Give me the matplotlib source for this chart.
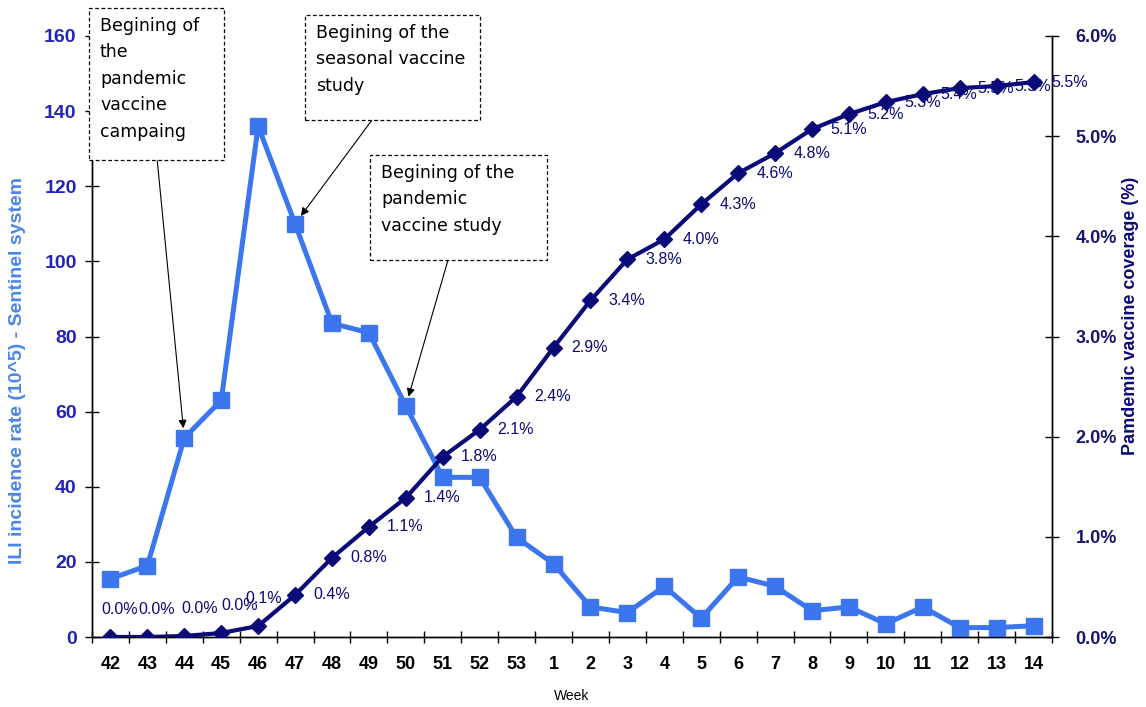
import matplotlib
matplotlib.use("Agg")
import matplotlib.pyplot as plt
from matplotlib.patches import Rectangle
from matplotlib.ticker import FuncFormatter, MultipleLocator

weeks = ["42", "43", "44", "45", "46", "47", "48", "49", "50", "51", "52", "53",
         "1", "2", "3", "4", "5", "6", "7", "8", "9", "10", "11", "12", "13", "14"]
ili_rate = [15.5, 19, 53, 63, 136, 110, 83.5, 81, 61.5, 42.5, 42.5, 26.5,
            19.5, 8, 6.5, 13.5, 5, 16, 13.5, 7, 8, 3.5, 8, 2.5, 2.5, 3]
coverage = [0.0, 0.0, 0.01, 0.04, 0.11, 0.42, 0.79, 1.10, 1.39, 1.80, 2.07, 2.40,
            2.89, 3.36, 3.77, 3.97, 4.32, 4.63, 4.83, 5.07, 5.22, 5.34, 5.42, 5.48, 5.50, 5.54]

notes = [
    "Begining of\nthe\npandemic\nvaccine\ncampaing",
    "Begining of the\nseasonal vaccine\nstudy",
    "Begining of the\npandemic\nvaccine study",
]
note_weeks = ["44", "47", "50"]

W, H = 1146, 707
BLUE = "#3b76ee"
NAVY = "#0a0a78"
LABEL_BLUE = "#4a86e8"
TICK_BLUE = "#2323b8"


def fx(x):
    return x / W


def fy(y):
    return 1 - y / H


plt.rcParams["font.family"] = ["Liberation Sans", "DejaVu Sans"]

fig = plt.figure(figsize=(W / 100, H / 100), dpi=100)
ax = fig.add_axes([fx(92), fy(637), fx(1052) - fx(92), fy(36) - fy(637)])
ax2 = ax.twinx()

x = list(range(len(weeks)))

ax.plot(x, ili_rate, color=BLUE, lw=3.6, marker="s", ms=11.5, zorder=3)
ax2.plot(x, coverage, color=NAVY, lw=3.0, marker="D", ms=8.5, zorder=3)

# data labels on the coverage line
for i, v in enumerate(coverage):
    txt = f"{v:.1f}%"
    if i < 5:
        dx = [7, 7, 11, 13, 4][i]
        ax2.annotate(txt, (i, v), xytext=(dx, 20), textcoords="offset points",
                     ha="center", va="center", fontsize=11.5, color=NAVY)
    else:
        ax2.annotate(txt, (i, v), xytext=(13, 0), textcoords="offset points",
                     ha="left", va="center", fontsize=11.5, color=NAVY)

ax.set_xlim(-0.5, len(weeks) - 0.5)
ax.set_ylim(0, 160)
ax2.set_ylim(0, 6)

ax.set_xticks(x)
ax.set_xticklabels(weeks, fontsize=13, fontweight="bold")
ax.set_xticks([i - 0.5 for i in range(len(weeks) + 1)], minor=True)
ax.tick_params(axis="x", which="major", length=0, pad=14)
ax.tick_params(axis="x", which="minor", direction="inout", length=9, width=1)

ax.yaxis.set_major_locator(MultipleLocator(20))
ax.tick_params(axis="y", direction="inout", length=10, width=1, pad=6,
               labelsize=14, labelcolor=TICK_BLUE)
for t in ax.get_yticklabels():
    t.set_fontweight("bold")

ax2.yaxis.set_major_locator(MultipleLocator(1))
ax2.yaxis.set_major_formatter(FuncFormatter(lambda v, p: f"{v:.1f}%"))
ax2.tick_params(axis="y", direction="inout", length=10, width=1, pad=12,
                labelsize=13, labelcolor="#161670")
for t in ax2.get_yticklabels():
    t.set_fontweight("bold")

for a in (ax, ax2):
    a.spines["top"].set_visible(False)
    for s in ("left", "right", "bottom"):
        a.spines[s].set_linewidth(1)

ax.set_xlabel("Week", fontsize=10, labelpad=11)
ax.set_ylabel("ILI incidence rate (10^5) - Sentinel system", fontsize=14,
              fontweight="bold", color=LABEL_BLUE)
ax.yaxis.set_label_coords(-0.069, 0.444)
ax2.set_ylabel("Pamdemic vaccine coverage (%)", fontsize=13,
               fontweight="bold", color=NAVY)
ax2.yaxis.set_label_coords(1.073, 0.534)

# annotation boxes (pixel corners: left, top, right, bottom) and arrow starts
boxes = [(89, 8, 224, 160), (305, 15, 480, 120), (370, 155, 547, 260)]
arrow_starts = [(157, 158), (372, 120), (448, 260)]

for note, wk, (l, t, r, b), (sx, sy) in zip(notes, note_weeks, boxes, arrow_starts):
    rect = Rectangle((fx(l), fy(b)), fx(r) - fx(l), fy(t) - fy(b),
                     transform=fig.transFigure, facecolor="white",
                     edgecolor="black", linestyle=(0, (3, 2)), lw=0.9, zorder=5)
    fig.patches.append(rect)
    fig.text(fx(l + 11), fy(t + 9), note, ha="left", va="top",
             fontsize=12.5, family="DejaVu Sans", linespacing=1.6, zorder=6)
    i = weeks.index(wk)
    ax.annotate("", xy=(i, ili_rate[i]), xytext=(fx(sx), fy(sy)),
                textcoords="figure fraction",
                arrowprops=dict(arrowstyle="-|>", color="black", lw=0.8,
                                mutation_scale=12, shrinkA=0, shrinkB=7),
                zorder=4)

fig.savefig("out.png", dpi=100)
